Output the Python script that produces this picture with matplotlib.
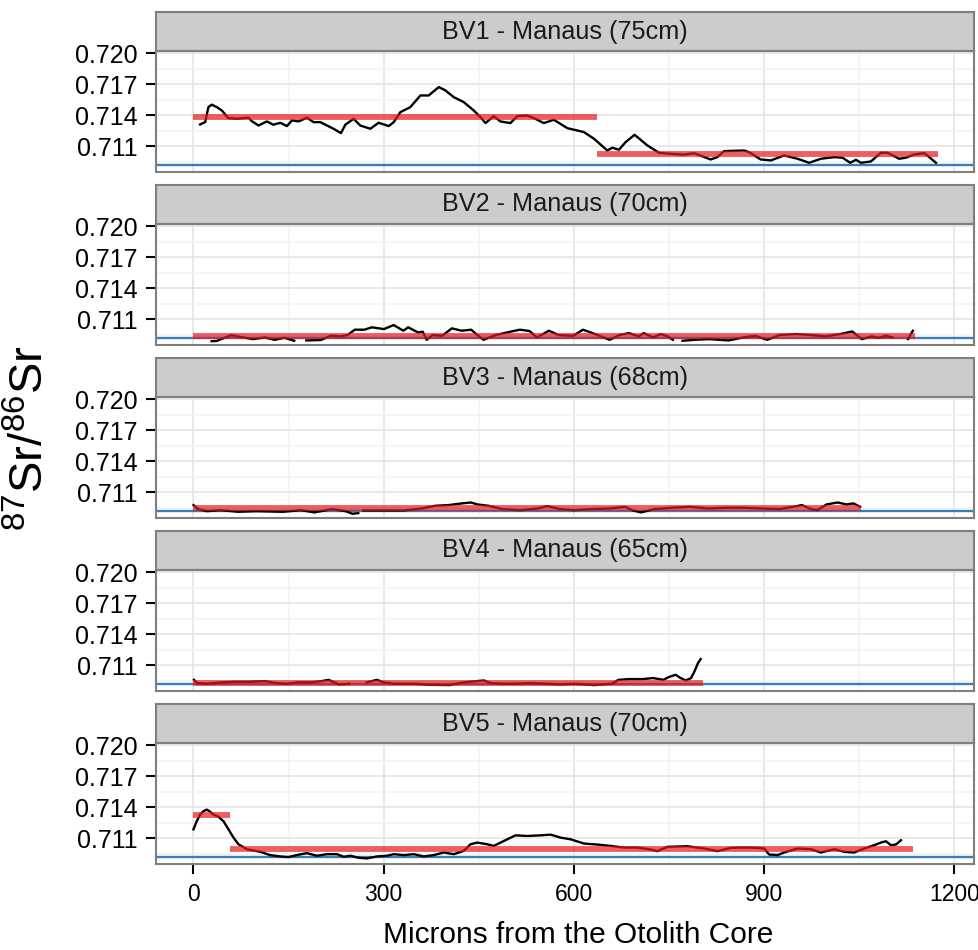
import numpy as np
import matplotlib
matplotlib.use('Agg')
import matplotlib.pyplot as plt

plt.rcParams['font.family'] = ['Liberation Sans', 'DejaVu Sans']
plt.rcParams['mathtext.fontset'] = 'custom'
plt.rcParams['mathtext.rm'] = 'Liberation Sans'

nan = np.nan

panel_titles = ['BV1 - Manaus (75cm)', 'BV2 - Manaus (70cm)', 'BV3 - Manaus (68cm)',
                'BV4 - Manaus (65cm)', 'BV5 - Manaus (70cm)']

# microns from core / 87Sr/86Sr profile
bv1_x = [10.6, 18.5, 23.7, 29, 37, 44.8, 55, 68.5, 87, 92, 102.6, 115.9, 126, 137, 147.5,
         155.4, 165.8, 179, 189.5, 200, 210.6, 221, 232.7, 239.5, 252.6, 263, 279, 292, 308,
         315.8, 326.4, 342, 358, 371, 387, 397.4, 410.5, 426.3, 442, 452.7, 460.6, 473.7, 484,
         500, 510.6, 526.4, 537, 552.6, 568.4, 589.6, 615.8, 631.6, 652.7, 660.6, 671, 681.6,
         695.8, 715.9, 734.2, 752.7, 773.7, 789.5, 815.8, 826.4, 836.8, 868.4, 876.3, 894.7,
         910.6, 931.6, 952.7, 971, 989.5, 1010.5, 1023.7, 1035.8, 1044.8, 1052.7, 1068.4,
         1084.2, 1094.7, 1113, 1123.7, 1136.8, 1152.6, 1160.5, 1171]
bv1_y = [0.7131, 0.71332, 0.71478, 0.71501, 0.71477, 0.71445, 0.71371, 0.71365, 0.71375,
         0.71342, 0.7130, 0.71339, 0.71307, 0.71326, 0.71294, 0.71349, 0.71339, 0.71375,
         0.71332, 0.71332, 0.7130, 0.71268, 0.71226, 0.71307, 0.71365, 0.7130, 0.71268,
         0.71326, 0.71294, 0.71332, 0.71429, 0.71477, 0.7159, 0.7159, 0.71671, 0.71639,
         0.71574, 0.71526, 0.71445, 0.71381, 0.71323, 0.7139, 0.71339, 0.71323, 0.7139,
         0.71397, 0.71371, 0.71323, 0.71355, 0.71274, 0.71236, 0.71172, 0.71058, 0.71085,
         0.71065, 0.71139, 0.7121, 0.71107, 0.71036, 0.71026, 0.71017, 0.71032, 0.70971,
         0.70994, 0.71052, 0.71058, 0.71042, 0.70971, 0.70962, 0.7101, 0.70978, 0.70939,
         0.70978, 0.70994, 0.70988, 0.70939, 0.70968, 0.70939, 0.70952, 0.71036, 0.71036,
         0.70978, 0.70988, 0.7102, 0.71032, 0.70994, 0.70939]

bv2_x = [28.7, 36.5, 59.4, 78.5, 93.8, 113, 128, 143.5, 159, nan, 178, 201, 216.4, 231.6,
         243, 254.5, 269.8, 281.3, 300.5, 315.8, 331, 338.7, 354, 361.7, 367.8, 377, 392.3,
         407.6, 422.9, 438.2, 445.9, 457.4, 476.5, 499.5, 514.8, 530, 541.6, 560.7, 576, 599,
         614.3, 629.6, 656.4, 671.7, 687, 702.3, 710, 725.3, 736.8, 748.3, 756, nan, 771.3,
         790.4, 813.3, 844, 867, 886, 905, 924.2, 951, 974, 997, 1020, 1039, 1054, 1069.5,
         1081, 1092.6, 1102.5, nan, 1126.9, 1134.5]
bv2_y = [0.70887, 0.70889, 0.70945, 0.70923, 0.70907, 0.70923, 0.709, 0.7092, 0.70891, nan,
         0.70894, 0.70898, 0.7094, 0.70933, 0.70946, 0.70998, 0.70998, 0.71021, 0.71004,
         0.71043, 0.70988, 0.71021, 0.70972, 0.70978, 0.709, 0.70946, 0.70939, 0.71011,
         0.70988, 0.70998, 0.70956, 0.709, 0.70946, 0.70978, 0.70998, 0.70985, 0.70923,
         0.70988, 0.70946, 0.70939, 0.70998, 0.70965, 0.709, 0.70946, 0.70965, 0.70933,
         0.70965, 0.70923, 0.70956, 0.70933, 0.709, nan, 0.70891, 0.709, 0.70907, 0.70894,
         0.70923, 0.70939, 0.709, 0.70946, 0.70956, 0.70946, 0.70933, 0.70956, 0.70981,
         0.70907, 0.70933, 0.7092, 0.70939, 0.70923, nan, 0.70907, 0.70988]

bv3_x = [0.2, 7.2, 21.3, 42.5, 70.7, 98.9, 141.3, 169.5, 190.7, 218.9, 240, 250.6, 260, nan,
         268, 296.5, 331.7, 360, 381, 402.3, 423.4, 437.5, 448, 465.8, 487, 515, 543.4, 557.5,
         578.7, 599.8, 628, 656.3, 681, 691.6, 705.7, 726.8, 755, 783.3, 811.5, 839.7, 867.9,
         896, 924.3, 945.5, 959.6, 973.7, 984.3, 998.4, 1016, 1030, 1041, 1051.5]
bv3_y = [0.70975, 0.70936, 0.70916, 0.70926, 0.7091, 0.70916, 0.7091, 0.70926, 0.70904,
         0.70936, 0.70916, 0.70891, 0.70897, nan, 0.70923, 0.70923, 0.70923, 0.70942, 0.70968,
         0.70975, 0.70991, 0.71, 0.70981, 0.70968, 0.70936, 0.70926, 0.70942, 0.70965,
         0.70936, 0.70926, 0.70936, 0.70942, 0.70958, 0.70926, 0.70904, 0.70936, 0.70949,
         0.70958, 0.70942, 0.70949, 0.70949, 0.70942, 0.70936, 0.70958, 0.70975, 0.70936,
         0.70926, 0.70981, 0.71, 0.70981, 0.70991, 0.70958]

bv4_x = [0.8, 6.2, 22.6, 44.3, 66.1, 87.9, 112.4, 131.4, 147.8, 164, 185.9, 202.3, 213.2,
         229.5, 245.8, nan, 273, 289.3, 300.2, 316.5, 349.2, 371, 403.7, 425.5, 447.3, 458.2,
         469, 490.8, 507.1, 528.9, 556.1, 577.9, 599.7, 618.7, 632.3, 659.5, 670.4, 686.7,
         708.5, 724.9, 741.2, 749.4, 760.3, 768.4, 776.6, 784.8, 790.2, 795.7, 800]
bv4_y = [0.70958, 0.70926, 0.7092, 0.70933, 0.70939, 0.70939, 0.70946, 0.70926, 0.7092,
         0.70933, 0.70933, 0.70946, 0.70958, 0.70913, 0.7092, nan, 0.70933, 0.70958, 0.70933,
         0.7092, 0.7092, 0.7091, 0.70907, 0.70933, 0.70946, 0.70952, 0.70926, 0.7092, 0.7092,
         0.70926, 0.7092, 0.70913, 0.7092, 0.70913, 0.70907, 0.7092, 0.70958, 0.70965,
         0.70965, 0.70975, 0.70958, 0.70984, 0.71007, 0.70975, 0.70952, 0.70975, 0.71039,
         0.7112, 0.71159]

bv5_x = [0.05, 5.3, 10.6, 15.8, 21.1, 25.3, 31.6, 39.5, 47.4, 55.3, 63.2, 71, 84.2, 105.3,
         121, 136.8, 150, 163, 179, 194.8, 210.6, 226.4, 237, 247.5, 260.7, 273.8, 289.6,
         305.4, 316, 331.7, 347.5, 363.3, 379, 394.8, 410.6, 426.4, 437, 447.5, 463.3, 473.8,
         489.6, 508, 526.5, 547.5, 563.3, 579, 594.8, 615.8, 636.9, 658, 679, 700, 721.1,
         731.6, 747.4, 779, 805.3, 826.4, 847.4, 868.5, 889.5, 900, 907.9, 921, 931.6, 952.7,
         973.7, 989.5, 1010.5, 1026.3, 1042, 1057.9, 1073.7, 1084.2, 1092.1, 1100, 1107.9,
         1115.8]
bv5_y = [0.71185, 0.71264, 0.71328, 0.7136, 0.71376, 0.7136, 0.71328, 0.71306, 0.71264,
         0.71185, 0.71105, 0.71041, 0.70993, 0.70968, 0.70936, 0.70923, 0.70917, 0.70936,
         0.70955, 0.7093, 0.70945, 0.70945, 0.7092, 0.7093, 0.7091, 0.70904, 0.70923, 0.7093,
         0.70945, 0.70936, 0.70945, 0.70923, 0.70936, 0.70961, 0.70945, 0.70977, 0.71041,
         0.71057, 0.71041, 0.71025, 0.71073, 0.71127, 0.71121, 0.71127, 0.71134, 0.71105,
         0.71089, 0.71048, 0.71038, 0.71025, 0.71009, 0.71009, 0.7099, 0.70974, 0.71016,
         0.71022, 0.71, 0.70974, 0.71006, 0.71009, 0.71006, 0.71, 0.70942, 0.70936, 0.70961,
         0.71, 0.70993, 0.70961, 0.70993, 0.70968, 0.70961, 0.71, 0.71032, 0.71057, 0.7107,
         0.71032, 0.71038, 0.7108]

# mean segments: (start, end, mean ratio)
bv1_means = [(0, 637, 0.71378), (637, 1175, 0.7102)]
bv2_means = [(0, 1138, 0.70936)]
bv3_means = [(0, 1053, 0.70942)]
bv4_means = [(0, 803, 0.70925)]
bv5_means = [(0, 58, 0.71324), (58, 1135, 0.70997)]

river_ratio = 0.7092

profiles_x = [bv1_x, bv2_x, bv3_x, bv4_x, bv5_x]
profiles_y = [bv1_y, bv2_y, bv3_y, bv4_y, bv5_y]
means = [bv1_means, bv2_means, bv3_means, bv4_means, bv5_means]

yticks = [0.711, 0.714, 0.717, 0.720]
ytick_labels = ['0.711', '0.714', '0.717', '0.720']
xticks = [0, 300, 600, 900, 1200]
xtick_labels = ['0', '300', '600', '900', '1200']

W, H = 979, 950
fig = plt.figure(figsize=(W / 100, H / 100), dpi=100)
left, right = 156, 974
edge = '#7F7F7F'

for k in range(5):
    top = 12 + 173 * k
    strip = fig.add_axes([left / W, 1 - (top + 39) / H, (right - left) / W, 39 / H])
    strip.set_facecolor('#CCCCCC')
    strip.set_xticks([])
    strip.set_yticks([])
    for s in strip.spines.values():
        s.set_color(edge)
        s.set_linewidth(1.5)
    strip.text(0.5, 0.5, panel_titles[k], ha='center', va='center', fontsize=18.2,
               color='#1A1A1A', transform=strip.transAxes)

    ax = fig.add_axes([left / W, 1 - (top + 160) / H, (right - left) / W, 121 / H])
    ax.axhline(river_ratio, color='#3A7DBF', lw=1.7, zorder=2)
    ax.plot(profiles_x[k], profiles_y[k], color='black', lw=1.7, zorder=3)
    for x0, x1, m in means[k]:
        ax.plot([x0, x1], [m, m], color='#E41A1C', alpha=0.7, lw=4.2,
                solid_capstyle='butt', zorder=4)

    ax.set_xlim(-59, 1231)
    ax.set_ylim(0.7085, 0.7202)
    ax.set_yticks(yticks)
    ax.set_yticklabels(ytick_labels)
    ax.set_yticks([0.7095, 0.7125, 0.7155, 0.7185], minor=True)
    ax.set_xticks(xticks)
    ax.set_xticks([150, 450, 750, 1050], minor=True)
    ax.grid(which='major', color='#E2E2E2', lw=1.1, zorder=0)
    ax.grid(which='minor', color='#F2F2F2', lw=1.1, zorder=0)
    ax.set_axisbelow(True)
    for s in ax.spines.values():
        s.set_color(edge)
        s.set_linewidth(1.5)
    ax.tick_params(which='minor', length=0)
    ax.tick_params(axis='y', which='major', length=7, width=1.5, color='black',
                   labelsize=18, pad=6.5, labelcolor='black')
    if k == 4:
        ax.set_xticklabels(xtick_labels)
        ax.tick_params(axis='x', which='major', length=7, width=1.5, color='black',
                       labelsize=16.5, pad=7, labelcolor='black')
    else:
        ax.tick_params(axis='x', which='both', bottom=False, labelbottom=False)

fig.text(578 / W, 1 - 943 / H, 'Microns from the Otolith Core',
         ha='center', va='baseline', fontsize=21.5)
fig.text(31 / W, 1 - 438 / H, r'$\mathregular{^{87}Sr/^{86}Sr}$', rotation=90,
         ha='center', va='center', fontsize=34)

fig.savefig('out.png', dpi=100)
